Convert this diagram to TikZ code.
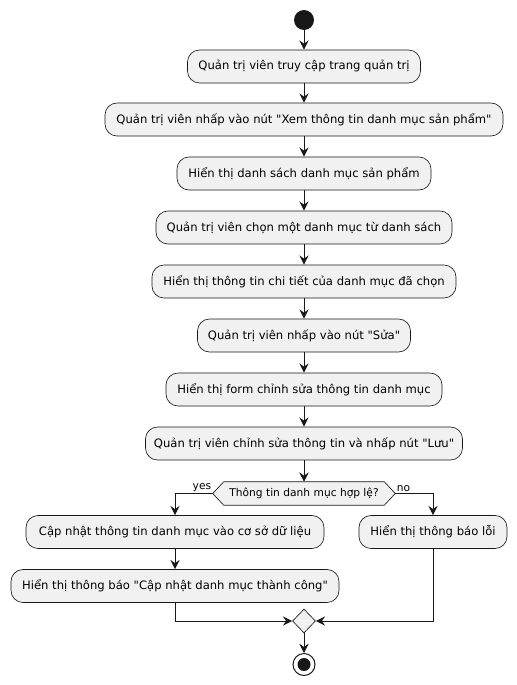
\documentclass[tikz,border=0pt]{standalone}
\usepackage{fontspec}
\setmainfont{DejaVu Sans}
\usetikzlibrary{arrows.meta,shapes.geometric,calc,backgrounds}
\definecolor{boxfill}{HTML}{F1F1F1}
\definecolor{ln}{HTML}{181818}
\begin{document}
\begin{tikzpicture}[x=0.75pt,y=-0.75pt,
  act/.style={draw=ln,line width=0.5pt,fill=boxfill,rounded corners=9pt,
    minimum height=33*0.75pt,minimum width=#1*0.75pt,inner sep=0pt,
    font=\fontsize{8.7}{11}\selectfont},
  arr/.style={draw=ln,line width=0.75pt,-{Stealth[length=7pt,width=7pt,inset=2.5pt]}},
  lbl/.style={inner sep=1pt,font=\fontsize{8}{10}\selectfont},
]
\useasboundingbox (0,0) rectangle (517,685);
\node[circle,fill=ln,minimum size=20*0.75pt,inner sep=0] (start) at (304,20) {};
\node[act=233] (b1) at (304,66.5) {Quản trị viên truy cập trang quản trị};
\node[act=398] (b2) at (304,119.5) {Quản trị viên nhấp vào nút \textquotedbl Xem thông tin danh mục sản phẩm\textquotedbl};
\node[act=254] (b3) at (304,173.5) {Hiển thị danh sách danh mục sản phẩm};
\node[act=296] (b4) at (304,227.5) {Quản trị viên chọn một danh mục từ danh sách};
\node[act=304] (b5) at (304,281.5) {Hiển thị thông tin chi tiết của danh mục đã chọn};
\node[act=213] (b6) at (304,335.5) {Quản trị viên nhấp vào nút \textquotedbl Sửa\textquotedbl};
\node[act=276] (b7) at (304,389.5) {Hiển thị form chỉnh sửa thông tin danh mục};
\node[act=317] (b8) at (304,443.5) {Quản trị viên chỉnh sửa thông tin và nhấp nút \textquotedbl Lưu\textquotedbl};
\node[inner sep=0,minimum width=182*0.75pt,minimum height=23*0.75pt,
  font=\fontsize{8}{10}\selectfont] (dec) at (304,493.5) {Thông tin danh mục hợp lệ?};
\begin{scope}[on background layer]
\draw[ln,line width=0.5pt,fill=boxfill] (dec.west) -- ($(dec.north west)+(11,0)$) -- ($(dec.north east)+(-11,0)$) -- (dec.east) -- ($(dec.south east)+(-11,0)$) -- ($(dec.south west)+(11,0)$) -- cycle;
\end{scope}
\node[act=298] (b9) at (175,532) {Cập nhật thông tin danh mục vào cơ sở dữ liệu};
\node[act=328] (b10) at (175,586) {Hiển thị thông báo \textquotedbl Cập nhật danh mục thành công\textquotedbl};
\node[act=148] (b11) at (433,532) {Hiển thị thông báo lỗi};
\node[diamond,draw=ln,line width=0.5pt,fill=boxfill,inner sep=0,minimum width=23*0.75pt,minimum height=24*0.75pt] (merge) at (304,621) {};
\node[circle,draw=ln,line width=0.75pt,fill=white,minimum size=22*0.75pt,inner sep=0] (end) at (304,664.5) {};
\node[circle,fill=ln,minimum size=13*0.75pt,inner sep=0] (endin) at (end.center) {};
\draw[arr] (start) -- (b1);
\draw[arr] (b1) -- (b2);
\draw[arr] (b2) -- (b3);
\draw[arr] (b3) -- (b4);
\draw[arr] (b4) -- (b5);
\draw[arr] (b5) -- (b6);
\draw[arr] (b6) -- (b7);
\draw[arr] (b7) -- (b8);
\draw[arr] (b8) -- (dec);
\draw[arr] (dec.west) -| (b9.north);
\draw[arr] (dec.east) -| (b11.north);
\node[lbl,anchor=south east] (yes) at (dec.west) {yes};
\node[lbl,anchor=south west] (no) at (dec.east) {no};
\draw[arr] (b9) -- (b10);
\draw[arr] (b10.south) |- (merge.west);
\draw[arr] (b11.south) |- (merge.east);
\draw[arr] (merge) -- (end);
\end{tikzpicture}
\end{document}
